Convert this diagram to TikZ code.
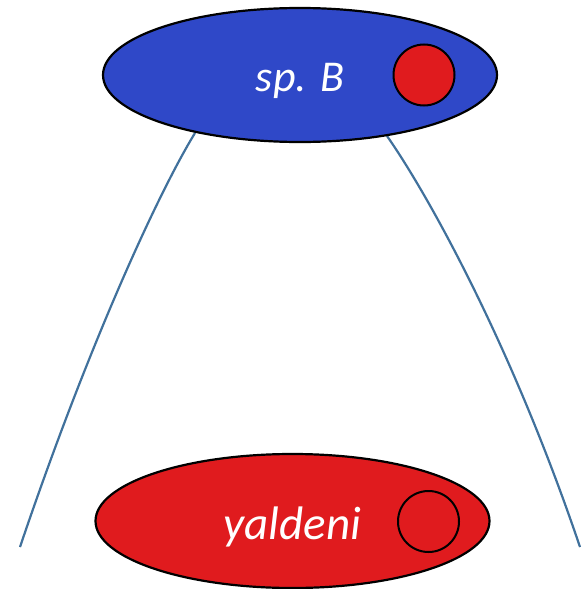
\documentclass[tikz,border=0pt]{standalone}
\usepackage{fontspec}
\setmainfont{Carlito}
\usetikzlibrary{shapes.geometric}
\definecolor{spblue}{RGB}{47,72,200}
\definecolor{spred}{RGB}{224,27,30}
\definecolor{linkblue}{RGB}{65,113,156}
\begin{document}
\begin{tikzpicture}[x=1pt,y=-1pt,
  species/.style={draw=black,line width=2.2pt,ellipse,minimum width=394pt,minimum height=134pt,inner sep=0pt},
  dot/.style={draw=black,line width=2pt,circle,minimum size=61pt,inner sep=0pt,fill=spred},
  label/.style={text=white,font=\itshape\fontsize{44}{52}\selectfont},
  branch/.style={draw=linkblue,line width=2.2pt}]
\useasboundingbox (0,0) rectangle (588,589);
\coordinate (lt) at (195,133);
\coordinate (lb) at (20,547);
\coordinate (rt) at (387,136);
\coordinate (rb) at (580,547);
\draw[branch] (lt) .. controls (160,190) and (90,340) .. (lb);
\draw[branch] (rt) .. controls (425,190) and (510,340) .. (rb);
\node[species,fill=spblue] (top) at (300,75) {};
\node[dot] (topdot) at (424,75) {};
\node[label,anchor=base] (toptext) at (300,91) {sp. B};
\node[species,fill=spred] (bot) at (292.5,521) {};
\node[dot] (botdot) at (428.5,521.5) {};
\node[label,anchor=base,font=\itshape\fontsize{47}{55}\selectfont] (bottext) at (292.5,539) {yaldeni};
\end{tikzpicture}
\end{document}
